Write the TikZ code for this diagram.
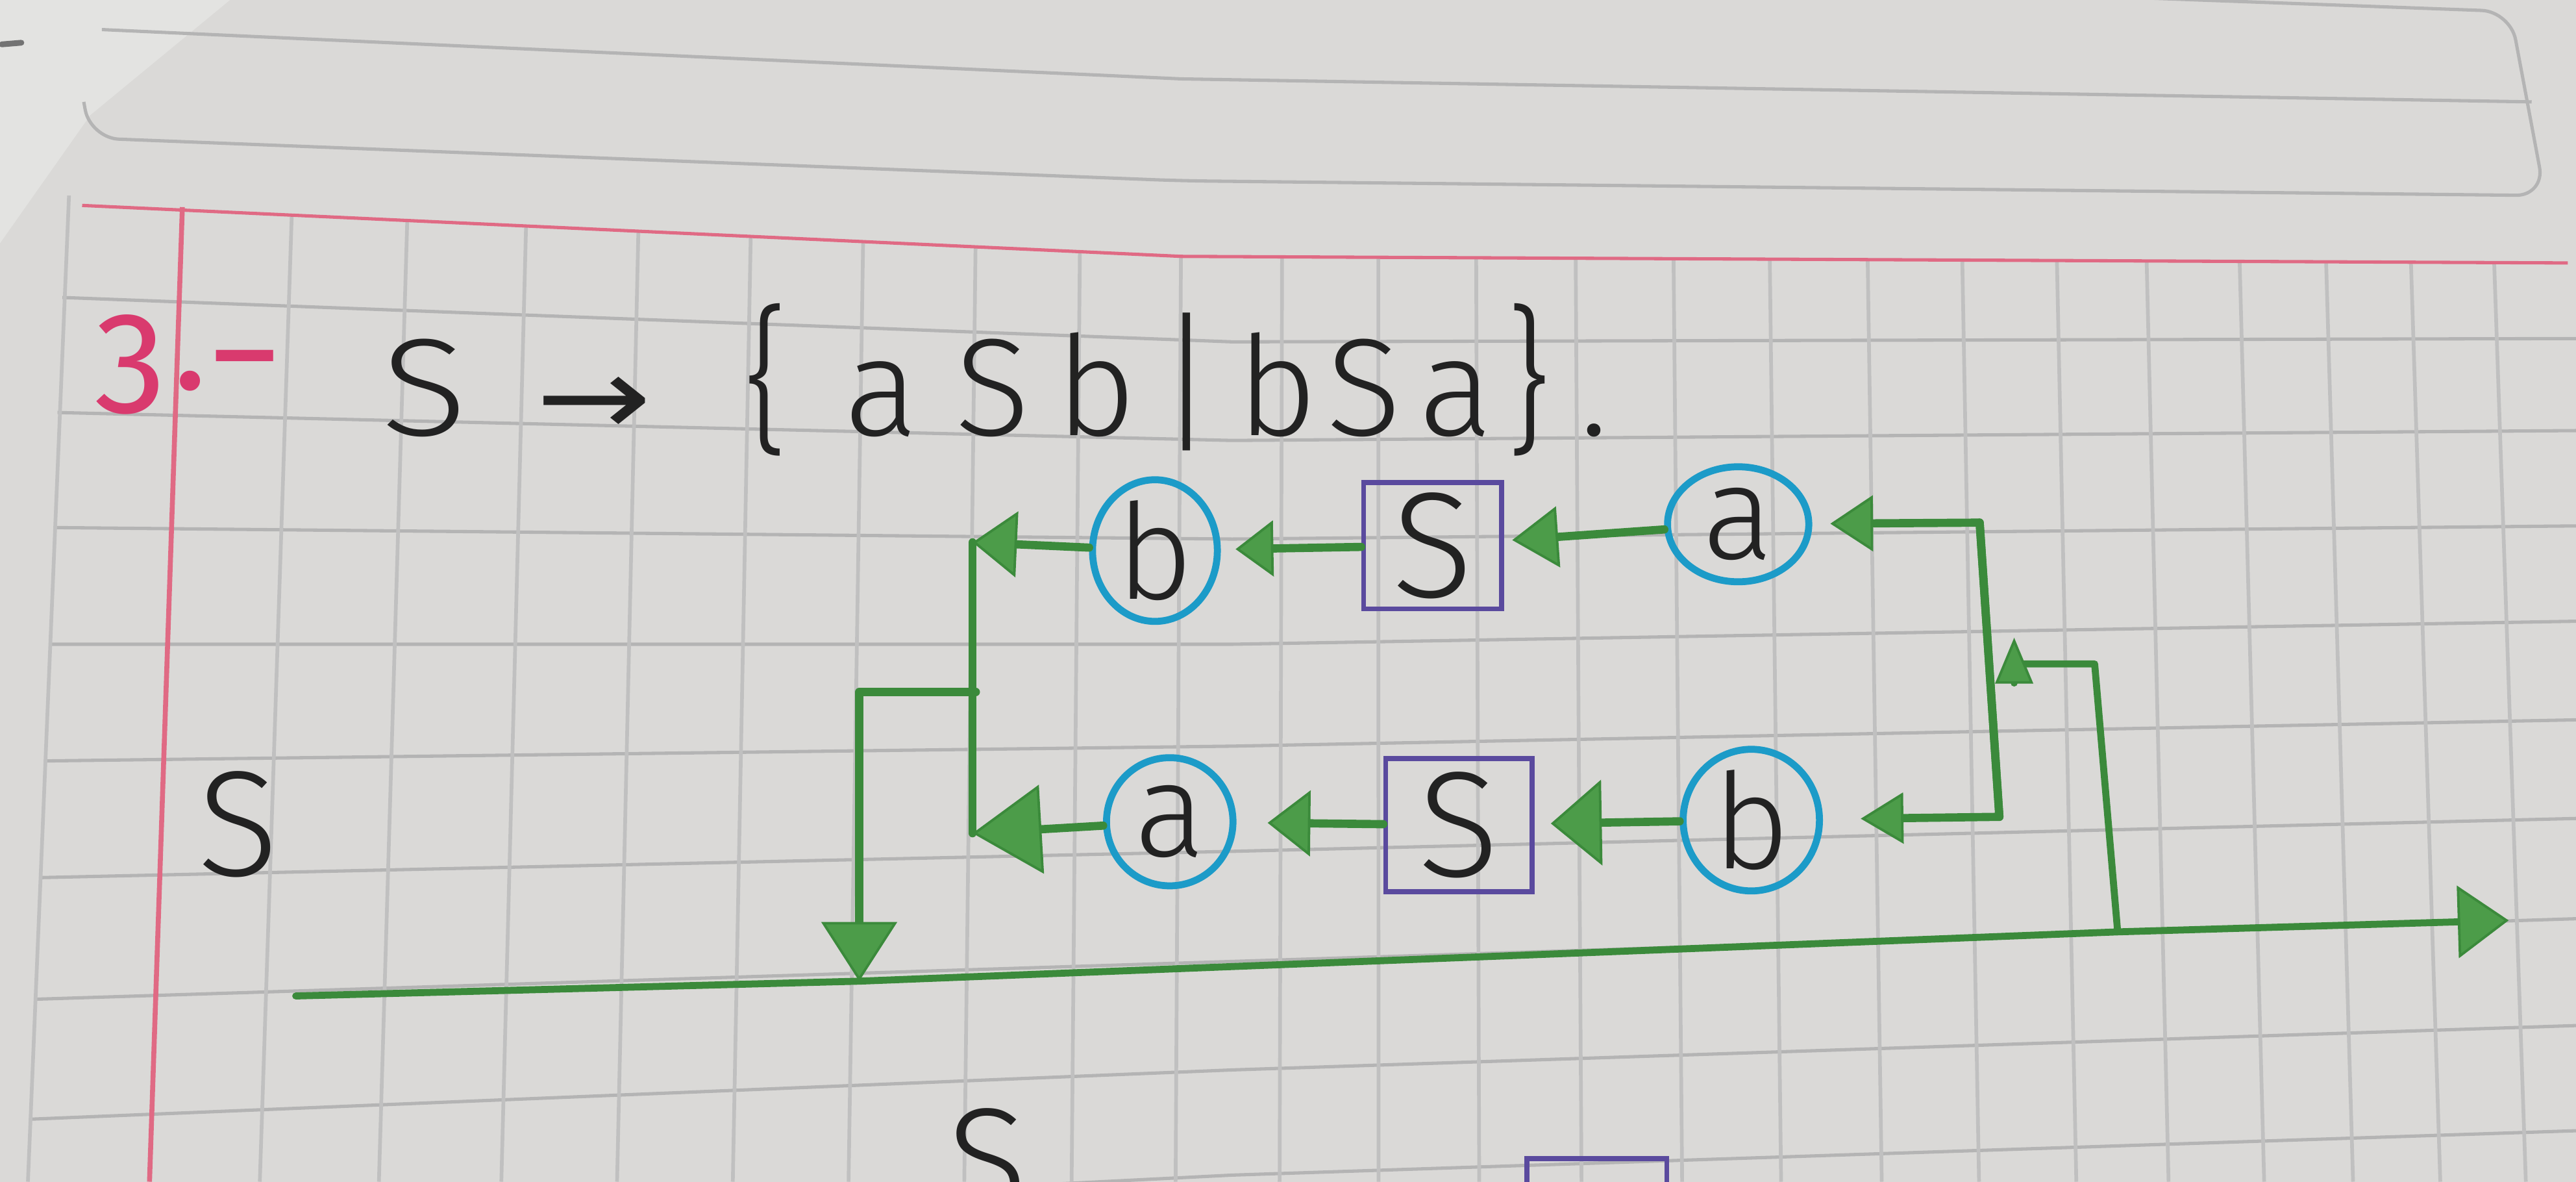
\documentclass[tikz,border=0pt]{standalone}
\usepackage{fontspec}
\setmainfont{Fira Sans}[UprightFont=* Light]
\newfontfamily\numf{Fira Sans}
\newfontfamily\symf{DejaVu Sans}
\usetikzlibrary{arrows.meta,shapes.geometric}
\definecolor{paper}{HTML}{DAD9D7}
\definecolor{paperlight}{HTML}{E3E3E1}
\definecolor{gridc}{HTML}{B4B4B4}
\definecolor{gridvc}{HTML}{C0C0C0}
\definecolor{pinkl}{HTML}{E06A84}
\definecolor{pinkt}{HTML}{D93A6E}
\definecolor{grn}{HTML}{3B8A3B}
\definecolor{grnf}{HTML}{4C9C49}
\definecolor{tealc}{HTML}{1C9BC8}
\definecolor{purp}{HTML}{5A4A9E}
\definecolor{ink}{HTML}{222222}
\newlength\pxu \setlength\pxu{0.02cm}
\tikzset{
  flow/.style={draw=grn, line width=0.1cm, line cap=round, line join=round},
  ar/.style 2 args={-{Triangle[length=#1,width=#2,line width=0.03cm,fill=grnf]}},
  term/.style={ellipse, draw=tealc, line width=0.085cm, inner sep=0pt, text=ink,
    font=\fontsize{46}{52}\selectfont},
  nonterm/.style={rectangle, draw=purp, line width=0.06cm, inner sep=0pt, text=ink,
    font=\fontsize{52}{58}\selectfont},
  gridh/.style={draw=gridc, line width=0.04cm},
  gridv/.style={draw=gridvc, line width=0.045cm},
  hand/.style={text=ink, inner sep=0pt},
}
\begin{document}
\begin{tikzpicture}[x=0.02cm,y=-0.02cm]
\useasboundingbox (0,0) rectangle (1568,719);
\clip (0,0) rectangle (1568,719);
% paper
\fill[paper] (0,0) rectangle (1568,719);
\fill[paperlight] (0,0) -- (140,0) -- (55,70) -- (0,148) -- cycle;
\draw[line width=0.07cm, black!55, line cap=round] (1,27) -- (13,26);
% header box of the page
\draw[gridh, rounded corners=0.35cm] (1230,-4) -- (1528,7) -- (1549,119) -- (719,110) -- (55,84) -- (51,62);
\draw[gridh] (62,18) -- (719,48) -- (1541,62);
% horizontal grid lines
\foreach \xs/\l/\m/\r in {38/181/208/206, 35/251/268/262, 33/321/328/320, 30/392/392/378,
  27/463/454/438, 24/534/518/498, 21/608/585/559, 18/681/651/624, 15/752/715/688}
  \draw[gridh] (\xs,\l) -- (750,\m) -- (1568,\r);
% vertical grid lines
\draw[gridv] (42,119) -- (17,719);
\foreach \x in {172,243,316,385,454,523,592,656,718,780,839,899,960,1020,1079,1139,1197,1255,1310,1367,1420,1472,1523}{
  \pgfmathsetmacro\tl{-25+0.03*\x}
  \pgfmathsetmacro\yt{min(125+0.046*(\x-50),156+0.0047*(\x-719))}
  \draw[gridv] ({\x+(\yt-300)*\tl/600},\yt) -- ({\x+(719-300)*\tl/600},719);
}
% margin lines
\draw[pinkl, line width=0.04cm] (50,125) -- (719,156) -- (1563,160);
\draw[pinkl, line width=0.06cm] (111,126) -- (91,719);

% heading
\node[hand, text=pinkt, anchor=base west, font=\numf\fontsize{50}{56}\selectfont] (num) at (57,251)
  {3\hspace{4\pxu}\raisebox{14\pxu}{.}\hspace{-2\pxu}\raisebox{7\pxu}{\scalebox{1.4}[1]{-}}};
\node[hand, anchor=base west, font=\fontsize{48}{54}\selectfont] (rule) at (227,265)
  {\makebox[62\pxu]{\scalebox{1.15}[1]{S}}\makebox[144\pxu]{\symf\scalebox{1}[0.8]{→}}\makebox[66\pxu]{\scalebox{1}[1.15]{\{}}\makebox[74\pxu]{a}\makebox[62\pxu]{S}\makebox[64\pxu]{b}\makebox[46\pxu]{\scalebox{1}[1.1]{|}}\makebox[64\pxu]{b}\makebox[42\pxu]{S}\makebox[70\pxu]{a}\makebox[18\pxu]{\scalebox{1}[1.15]{\}}}\makebox[62\pxu]{.}};
\node[hand, anchor=base, font=\fontsize{52}{58}\selectfont] (lhs) at (145,533) {S};

% terminals and non-terminals
\node[term, minimum width=1.52cm, minimum height=1.62cm] (tb) at (703,335) {b};
\node[nonterm, minimum width=1.68cm, minimum height=1.54cm] (tS) at (872,332) {S};
\node[term, minimum width=1.72cm, minimum height=1.40cm] (ta) at (1058,319) {a};
\node[term, minimum width=1.54cm, minimum height=1.56cm] (ba) at (712,500) {a};
\node[nonterm, minimum width=1.78cm, minimum height=1.62cm] (bS) at (888,502) {S};
\node[term, minimum width=1.66cm, minimum height=1.48cm] (bb) at (1066,499) {b};

% junction points
\coordinate (tl) at (592,330);
\coordinate (bl) at (592,507);
\coordinate (jl) at (594,421);
\coordinate (md) at (523,597);
\coordinate (ms) at (180,606);
\coordinate (mr) at (1289,567);
\coordinate (me) at (1527,560);
\coordinate (rc) at (1275,404);
\coordinate (ru) at (1226,404);
\coordinate (ra) at (1226,388);
\coordinate (rt) at (1205,318);
\coordinate (rb) at (1217,497);

% connectors
\draw[flow, ar={0.56cm}{0.74cm}, shorten >=0.1cm] (ta) -- (tS);
\draw[flow, ar={0.46cm}{0.68cm}, shorten >=0.18cm] (tS) -- (tb);
\draw[flow, ar={0.54cm}{0.8cm}] (tb) -- (tl);
\draw[flow] (tl) -- (bl);
\draw[flow, ar={0.62cm}{1.04cm}, shorten >=0.2cm] (bb) -- (bS);
\draw[flow, ar={0.52cm}{0.8cm}, shorten >=0.38cm] (bS) -- (ba);
\draw[flow, ar={0.84cm}{1.08cm}] (ba) -- (bl);
\draw[flow, ar={0.72cm}{0.92cm}] (jl) -| (md);
\draw[flow, line width=0.085cm, ar={0.62cm}{0.88cm}] (ms) -- (md) -- (mr) -- (me);
\draw[flow, line width=0.085cm, ar={0.56cm}{0.46cm}] (mr) -- (rc) -- (ru) -- (ra);
\draw[flow, ar={0.52cm}{0.68cm}, shorten >=0.22cm] (rb) -- (rt) -- (ta);
\draw[flow, ar={0.52cm}{0.62cm}, shorten >=0.46cm] (rt) -- (rb) -- (bb);

% start of the next diagram, cut by the page edge
\node[hand, anchor=base, font=\fontsize{52}{58}\selectfont] (nextS) at (601,738) {S};
\node[nonterm, minimum width=1.7cm, minimum height=1.6cm] (nextbox) at (972,745) {};
\end{tikzpicture}
\end{document}
